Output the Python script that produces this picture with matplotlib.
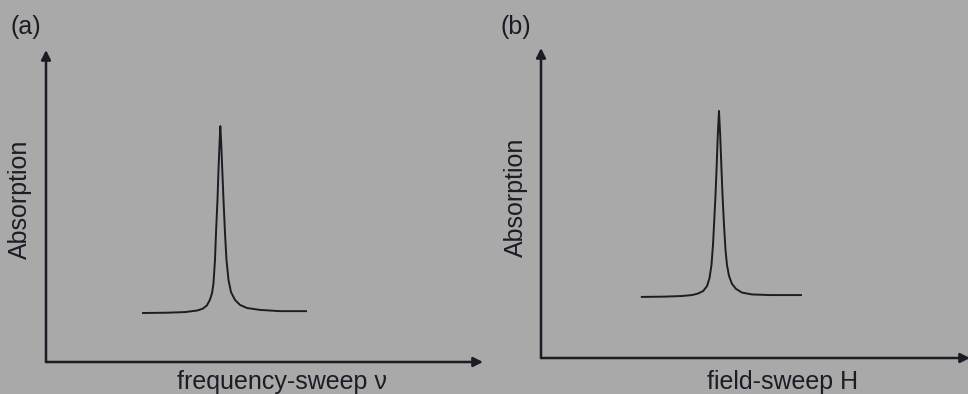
import matplotlib
matplotlib.use("Agg")
import matplotlib.pyplot as plt

# panel (a): frequency sweep (arbitrary units 0-100)
freq_x = [22.2, 27.7, 31.8, 34.6, 35.9, 36.8, 37.5, 38.0, 38.33, 38.67, 38.90, 39.24, 39.47, 39.70,
          39.89,
          40.11, 40.34, 40.62, 40.96, 41.30, 41.76, 42.33, 43.25, 44.39, 46.0, 48.97, 53.5, 59.5]
freq_y = [15.7, 15.8, 16.0, 16.5, 17.1, 18.1, 19.9, 22.1, 25.3, 32.7, 41.3, 51.9, 61.5, 69.6,
          75.6,
          69.6, 61.5, 51.9, 41.3, 32.7, 26.3, 22.4, 19.9, 18.3, 17.3, 16.7, 16.3, 16.3]

# panel (b): field sweep
field_x = [23.5, 28.9, 32.9, 35.2, 36.6, 37.8, 38.7, 39.28, 39.74, 40.09, 40.33, 40.68, 40.96, 41.21,
           41.49,
           41.77, 42.03, 42.31, 42.66, 43.01, 43.36, 43.82, 44.52, 45.45, 46.85, 49.18, 53.4, 60.6]
field_y = [19.7, 19.8, 20.0, 20.3, 20.8, 21.6, 23.2, 25.8, 30.0, 36.5, 42.9, 52.6, 62.3, 71.9,
           79.7,
           71.9, 62.3, 52.6, 42.9, 34.8, 30.0, 26.5, 23.9, 22.3, 21.1, 20.5, 20.3, 20.3]

panel_labels = ["(a)", "(b)"]
x_labels = ["frequency-sweep \u03bd", "field-sweep H"]
y_label = "Absorption"

BG = "#a9a9a9"
INK = "#1c1c24"
W, H = 968, 394

plt.rcParams['font.family'] = ['Liberation Sans', 'DejaVu Sans']

fig = plt.figure(figsize=(W / 100, H / 100), dpi=100, facecolor=BG)


def px(x, y):
    return x / W, 1 - y / H


def make_panel(left, top, right, bottom, xs, ys):
    ax = fig.add_axes([left / W, 1 - bottom / H, (right - left) / W, (bottom - top) / H])
    ax.patch.set_alpha(0)
    ax.set_xlim(0, 100)
    ax.set_ylim(0, 100)
    for s in ax.spines.values():
        s.set_visible(False)
    ax.set_xticks([])
    ax.set_yticks([])
    arrow = dict(arrowstyle='-|>', lw=1.8, color=INK, mutation_scale=14, shrinkA=0, shrinkB=0)
    ax.annotate("", xy=(1.0, 0), xytext=(0, 0), xycoords='axes fraction', arrowprops=arrow,
                annotation_clip=False)
    ax.annotate("", xy=(0, 1.0), xytext=(0, 0), xycoords='axes fraction', arrowprops=arrow,
                annotation_clip=False)
    ax.plot(xs, ys, color=INK, lw=1.4, solid_joinstyle='round')
    return ax


ax_a = make_panel(46, 50, 483, 362, freq_x, freq_y)
ax_b = make_panel(541, 48, 970, 358, field_x, field_y)

fs = 18
fig.text(*px(10, 27), panel_labels[0], fontsize=fs, color=INK, ha='left', va='center')
fig.text(*px(501, 27), panel_labels[1], fontsize=fs, color=INK, ha='left', va='center')
fig.text(*px(20, 199), y_label, fontsize=fs, color=INK, rotation=90, ha='center', va='center')
fig.text(*px(516, 197), y_label, fontsize=fs, color=INK, rotation=90, ha='center', va='center')
fig.text(*px(282, 382), x_labels[0], fontsize=fs, color=INK, ha='center', va='center')
fig.text(*px(783, 382), x_labels[1], fontsize=fs, color=INK, ha='center', va='center')

fig.savefig("out.png", dpi=100, facecolor=BG)
